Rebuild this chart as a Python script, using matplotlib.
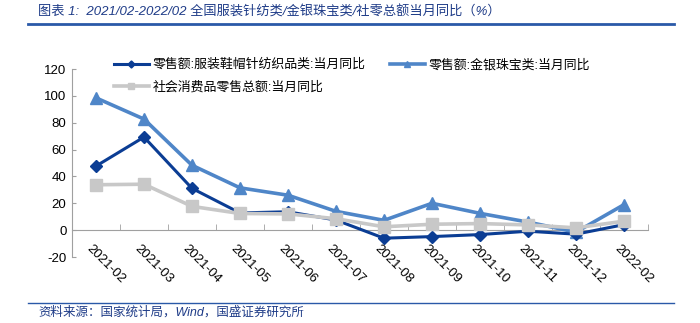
import numpy as np
import matplotlib
matplotlib.use("Agg")
import matplotlib.pyplot as plt
from matplotlib.transforms import ScaledTranslation

plt.rcParams['font.family'] = ['Liberation Sans', 'Noto Sans CJK SC', 'DejaVu Sans']
plt.rcParams['axes.unicode_minus'] = False

# 当月同比 (%)
months = ["2021-02", "2021-03", "2021-04", "2021-05", "2021-06", "2021-07",
          "2021-08", "2021-09", "2021-10", "2021-11", "2021-12", "2022-02"]
clothing = [47.7, 69.3, 31.1, 12.8, 13.7, 7.5, -6.0, -4.8, -3.3, -0.8, -3.0, 4.1]
jewelry = [98.5, 82.7, 48.3, 31.5, 26.0, 14.0, 7.3, 20.0, 12.5, 6.0, -1.5, 19.0]
retail = [33.8, 34.2, 17.7, 12.4, 12.1, 8.5, 2.5, 4.4, 4.9, 3.9, 1.7, 6.7]

lbl_clothing = "零售额:服装鞋帽针纺织品类:当月同比"
lbl_jewelry = "零售额:金银珠宝类:当月同比"
lbl_retail = "社会消费品零售总额:当月同比"
yticks = [-20, 0, 20, 40, 60, 80, 100, 120]

DARK = "#0B3D94"
LIGHT = "#4F86C8"
GRAY = "#C8C8C8"
TITLE_C = "#1F3C88"

fig = plt.figure(figsize=(7.0, 3.23), dpi=100)
ax = fig.add_axes([72/700, 1-257/323, 576/700, 188/323])

x = np.arange(len(months))
l_j, = ax.plot(x, jewelry, color=LIGHT, lw=2.6, marker="^", ms=9, zorder=3)
l_c, = ax.plot(x, clothing, color=DARK, lw=2.2, marker="D", ms=6.5, zorder=4)
l_r, = ax.plot(x, retail, color=GRAY, lw=2.6, marker="s", ms=8.5, zorder=5)

ax.set_xlim(-0.5, len(months) - 0.5)
ax.set_ylim(-20, 120)
ax.set_yticks(yticks)
ax.set_yticklabels([str(v) for v in yticks], fontsize=9.5)

for s in ("top", "right"):
    ax.spines[s].set_visible(False)
ax.spines["left"].set_color("#A0A0A0")
ax.spines["bottom"].set_color("#A0A0A0")
ax.spines["bottom"].set_position(("data", 0))
ax.tick_params(axis="y", direction="in", length=3, color="#A0A0A0", pad=4)

# category labels at centres, tick marks at boundaries
ax.set_xticks(x)
ax.set_xticklabels(months, fontsize=9.5, rotation=-45,
                   rotation_mode="anchor", ha="left", va="top")
ax.set_xticks(np.arange(-0.5, len(months), 1), minor=True)
ax.tick_params(axis="x", which="major", length=0, pad=9)
ax.tick_params(axis="x", which="minor", direction="in", length=4, color="#A0A0A0")
shift = ScaledTranslation(-3/100, 0, fig.dpi_scale_trans)
for t in ax.get_xticklabels():
    t.set_transform(t.get_transform() + shift)

leg = fig.legend([l_c, l_r, l_j], [lbl_clothing, lbl_retail, lbl_jewelry],
                 ncol=2, loc="upper left", bbox_to_anchor=(102/700, 1-47/323),
                 frameon=False, fontsize=9.3, handlelength=2.7, handletextpad=0.3,
                 labelspacing=0.75, columnspacing=1.9, markerscale=0.55)

# header and footer
fig.text(38/700, 1-12/323, "图表 1:  2021/02-2022/02 全国服装针纺类/金银珠宝类/社零总额当月同比（%）",
         fontsize=9.5, style="italic", color=TITLE_C, va="center", ha="left")
fig.add_artist(plt.Line2D([28/700, 674/700], [1-24/323, 1-24/323],
                          transform=fig.transFigure, color="#2A59A8", lw=2))
fig.add_artist(plt.Line2D([28/700, 674/700], [1-303/323, 1-303/323],
                          transform=fig.transFigure, color="#2A59A8", lw=1))
fig.text(38/700, 1-312/323, "资料来源：国家统计局，Wind，国盛证券研究所",
         fontsize=9, style="italic", color=TITLE_C, va="center", ha="left")

fig.savefig("out.png", dpi=100)
